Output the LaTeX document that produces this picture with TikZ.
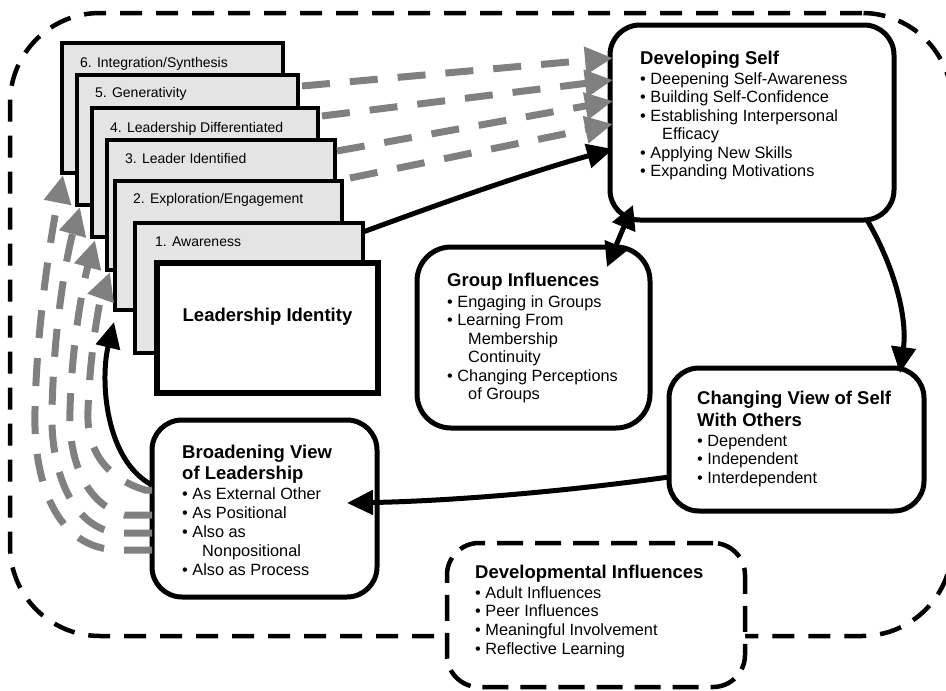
\documentclass[tikz,border=0pt]{standalone}
\usepackage{fontspec}
\setmainfont{Liberation Sans}
\usetikzlibrary{arrows.meta,calc}
\definecolor{cardgray}{RGB}{228,228,228}
\definecolor{arrgray}{RGB}{128,128,128}
\newcommand{\bul}{\textbullet\ }
\begin{document}
\begin{tikzpicture}[x=1pt,y=-1pt,
  card/.style={draw, line width=3.8pt, fill=cardgray, anchor=north west, inner sep=0pt, outer sep=0pt},
  idbox/.style={draw, line width=5.5pt, fill=white, anchor=north west, inner sep=0pt, outer sep=0pt},
  rbox/.style={draw, line width=5pt, fill=white, rounded corners=30pt, anchor=north west, inner sep=0pt, outer sep=0pt},
  dbox/.style={draw, line width=4.5pt, dash pattern=on 26pt off 12pt, fill=white, rounded corners=32pt, anchor=north west, inner sep=0pt, outer sep=0pt},
  outerbox/.style={draw, line width=4.5pt, dash pattern=on 22pt off 14pt, rounded corners=90pt, anchor=north west, inner sep=0pt, outer sep=0pt},
  cardlbl/.style={anchor=base west, inner sep=0pt, font=\fontsize{14}{17}\selectfont},
  ttl/.style={anchor=base west, inner sep=0pt, font=\fontsize{18.5}{22}\selectfont\bfseries},
  lst/.style={anchor=north west, inner sep=0pt, align=left, font=\fontsize{16.3}{18.5}\selectfont},
  blk/.style={line width=5pt, -{Triangle[length=26pt,width=24pt]}},
  blkboth/.style={line width=5pt, {Triangle[length=24pt,width=24pt]}-{Triangle[length=24pt,width=24pt]}},
  gry/.style={draw=arrgray, line width=7pt, dash pattern=on 28pt off 20pt, -{Triangle[length=28pt,width=26pt]}, arrgray}
]
\useasboundingbox (0,0) rectangle (946,691);

% outer dashed frame
\node[outerbox, minimum width=942pt, minimum height=623pt] (outer) at (10,13) {};

% stack of cards
\node[card, minimum width=221pt, minimum height=130pt] (c6) at (62,43) {};
\node[cardlbl] (l6) at (80,67) {6. Integration/Synthesis};
\node[card, minimum width=221pt, minimum height=130pt] (c5) at (77,75) {};
\node[cardlbl] (l5) at (95,97) {5. Generativity};
\node[card, minimum width=226pt, minimum height=129pt] (c4) at (92,108) {};
\node[cardlbl] (l4) at (110,132) {4. Leadership Differentiated};
\node[card, minimum width=228pt, minimum height=130pt] (c3) at (107,140) {};
\node[cardlbl] (l3) at (125,163) {3. Leader Identified};
\node[card, minimum width=227pt, minimum height=129pt] (c2) at (115,181) {};
\node[cardlbl] (l2) at (133,203) {2. Exploration/Engagement};
\node[card, minimum width=228pt, minimum height=130pt] (c1) at (135,223) {};
\node[cardlbl] (l1) at (155,246) {1. Awareness};
\node[idbox, minimum width=221pt, minimum height=130pt] (lid) at (157,263) {};
\node[anchor=base, inner sep=0pt, font=\fontsize{18.5}{22}\selectfont\bfseries] (lidt) at (267.5,321.6) {Leadership Identity};

% Developing Self
\node[rbox, minimum width=284pt, minimum height=195pt] (dev) at (610,25) {};
\node[ttl] (devt) at (640,64.6) {Developing Self};
\node[lst] (devl) at (640,72) {\bul Deepening Self-Awareness\\ \bul Building Self-Confidence\\ \bul Establishing Interpersonal\\ \hspace*{22pt}Efficacy\\ \bul Applying New Skills\\ \bul Expanding Motivations};

% Group Influences
\node[rbox, rounded corners=34pt, minimum width=233pt, minimum height=181pt] (grp) at (417,247) {};
\node[ttl] (grpt) at (447,286.6) {Group Influences};
\node[lst] (grpl) at (447,295) {\bul Engaging in Groups\\ \bul Learning From\\ \hspace*{21pt}Membership\\ \hspace*{21pt}Continuity\\ \bul Changing Perceptions\\ \hspace*{21pt}of Groups};

% Changing View of Self With Others
\node[rbox, minimum width=255pt, minimum height=143pt] (chg) at (669,368) {};
\node[ttl] (chgt1) at (697,404.6) {Changing View of Self};
\node[ttl] (chgt2) at (697,426.6) {With Others};
\node[lst] (chgl) at (697,434) {\bul Dependent\\ \bul Independent\\ \bul Interdependent};

% Broadening View of Leadership
\node[rbox, minimum width=225pt, minimum height=177pt] (brd) at (152,420) {};
\node[ttl] (brdt1) at (182,458.6) {Broadening View};
\node[ttl] (brdt2) at (182,479.6) {of Leadership};
\node[lst, font=\fontsize{16.3}{19}\selectfont] (brdl) at (182,487) {\bul As External Other\\ \bul As Positional\\ \bul Also as\\ \hspace*{20pt}Nonpositional\\ \bul Also as Process};

% Developmental Influences
\node[dbox, minimum width=298pt, minimum height=144pt] (dvi) at (447,543) {};
\node[ttl] (dvit) at (475,578.6) {Developmental Influences};
\node[lst, font=\fontsize{16.3}{18.8}\selectfont] (dvil) at (475,586) {\bul Adult Influences\\ \bul Peer Influences\\ \bul Meaningful Involvement\\ \bul Reflective Learning};

% gray dashed arrows from the stack to Developing Self
\draw[gry] ($(c5.north east)+(4,11)$) -- ($(dev.north west)+(3,33)$);
\draw[gry] ($(c4.north east)+(4,8)$) -- ($(dev.north west)+(3,55)$);
\draw[gry] ($(c3.north east)+(2,11)$) -- ($(dev.north west)+(3,76)$);
\draw[gry] ($(c2.north east)+(8,-3)$) -- ($(dev.north west)+(3,99)$);

% gray dashed arrows from Broadening View to the stack
\draw[gry] ($(brd.north west)+(0,130)$) -- (120,550) .. controls (55,550) and (33,480) .. (35,410) .. controls (37,320) and (52,230) .. ($(c6.south west)+(1,2)$);
\draw[gry] ($(brd.north west)+(0,113)$) -- (120,533) .. controls (72,530) and (50,470) .. (52,410) .. controls (54,320) and (68,250) .. ($(c5.south west)+(3,2)$);
\draw[gry] ($(brd.north west)+(0,95)$) -- (125,515) .. controls (86,505) and (68,460) .. (70,410) .. controls (72,340) and (84,280) .. ($(c4.south west)+(3,3)$);
\draw[gry] ($(brd.north west)+(0,70)$) -- (145,490) .. controls (106,478) and (86,450) .. (88,410) .. controls (90,350) and (100,300) .. ($(c3.south west)+(3,2)$);

% black arrows
\draw[blk] ($(c1.north east)+(0,9)$) .. controls (450,200) and (530,172) .. ($(dev.north west)+(3,124)$);
\draw[blkboth] ($(grp.north east)+(-43,20)$) -- ($(dev.south west)+(23,-15)$);
\draw[blk] ($(dev.south east)+(-27,0)$) .. controls (892,262) and (908,315) .. ($(chg.north east)+(-24,5)$);
\draw[blk] ($(chg.north west)+(0,109)$) .. controls (560,492) and (450,501) .. ($(brd.north east)+(-30,83)$);
\draw[blk] ($(brd.north west)+(0,65)$) .. controls (105,460) and (100,380) .. ($(c2.south west)+(-1,12)$);
\end{tikzpicture}
\end{document}
